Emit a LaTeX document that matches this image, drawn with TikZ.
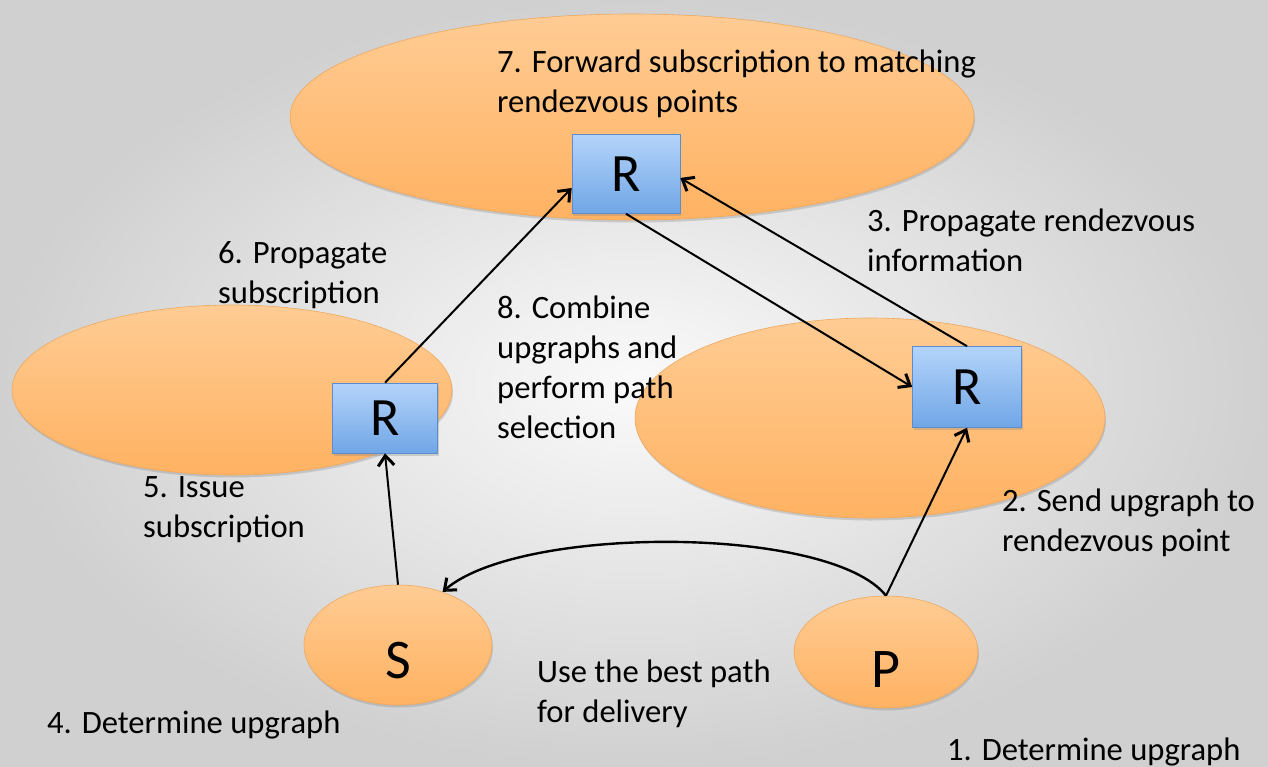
\documentclass[tikz,border=0pt]{standalone}
\usepackage{fontspec}
\setmainfont{Carlito}
\usetikzlibrary{shapes.geometric,arrows.meta,shadows,calc}
\definecolor{orgtop}{RGB}{255,204,148}
\definecolor{orgbot}{RGB}{255,178,98}
\definecolor{orgline}{RGB}{238,168,95}
\definecolor{bluetop}{RGB}{180,212,250}
\definecolor{bluebot}{RGB}{112,166,230}
\definecolor{blueline}{RGB}{90,140,210}
\definecolor{bgin}{RGB}{250,250,250}
\definecolor{bgout}{RGB}{208,208,208}
\tikzset{
  blob/.style={ellipse, inner sep=0pt, top color=orgtop, bottom color=orgbot, draw=orgline, line width=0.6pt,
    drop shadow={opacity=0.3, shadow xshift=1pt, shadow yshift=-2.5pt},
    font=\fontsize{56}{60}\selectfont},
  rbox/.style={rectangle, inner sep=0pt, top color=bluetop, bottom color=bluebot, draw=blueline, line width=0.6pt,
    drop shadow={opacity=0.3, shadow xshift=1pt, shadow yshift=-2.5pt},
    font=\fontsize{54}{60}\selectfont},
  lbl/.style={anchor=base west, align=left, inner sep=0pt, font=\fontsize{32.6}{40}\selectfont},
  arr/.style={-{Straight Barb[length=10pt,width=16pt,line width=3pt]}, line width=2pt, black}
}
\begin{document}
\begin{tikzpicture}[x=1pt,y=-1pt]
\shade[inner color=bgin, outer color=bgout] (0,0) rectangle (1268,767);
\useasboundingbox (0,0) rectangle (1268,767);
% regions
\node[blob, minimum width=684, minimum height=206] (Et) at (632,117) {};
\node[blob, minimum width=440, minimum height=170] (El) at (232,390) {};
\node[blob, minimum width=470, minimum height=200] (Er) at (870,418) {};
\node[blob, minimum width=188, minimum height=120] (S) at (398,645) {\raisebox{-33pt}[0pt][0pt]{S}};
\node[blob, minimum width=184, minimum height=112] (P) at (886,652) {\raisebox{-35pt}[0pt][0pt]{P}};
% rendezvous boxes
\node[rbox, minimum width=108, minimum height=79] (Rt) at (626,174) {R};
\node[rbox, minimum width=105, minimum height=70] (Rl) at (385,418) {R};
\node[rbox, minimum width=109, minimum height=81] (Rr) at (967,387) {R};
% connectors
\draw[arr] (Rl.north) -- ([yshift=-14pt]Rt.west);
\draw[arr] (Rr.north) -- ([yshift=-4pt]Rt.east);
\draw[arr] (Rt.south) -- (Rr.west);
\draw[arr] (S.north) -- (Rl.south);
\draw[arr] (P.north) -- (Rr.south);
\draw[arr, line width=2.4pt] (P.north) .. controls (830,525) and (520,525) .. (S.50);
% labels (anchored at the baseline of the last line)
\node[lbl] (t7) at (497,113) {7. Forward subscription to matching\\rendezvous points};
\node[lbl] (t3) at (867,272) {3. Propagate rendezvous\\information};
\node[lbl] (t6) at (218,303) {6. Propagate\\subscription};
\node[lbl] (t8) at (497,438) {8. Combine\\upgraphs and\\perform path\\selection};
\node[lbl] (t5) at (143,537) {5. Issue\\subscription};
\node[lbl] (t2) at (1002,551) {2. Send upgraph to\\rendezvous point};
\node[lbl] (tu) at (537,722) {Use the best path\\for delivery};
\node[lbl] (t4) at (47,733) {4. Determine upgraph};
\node[lbl] (t1) at (947,760) {1. Determine upgraph};
\end{tikzpicture}
\end{document}
